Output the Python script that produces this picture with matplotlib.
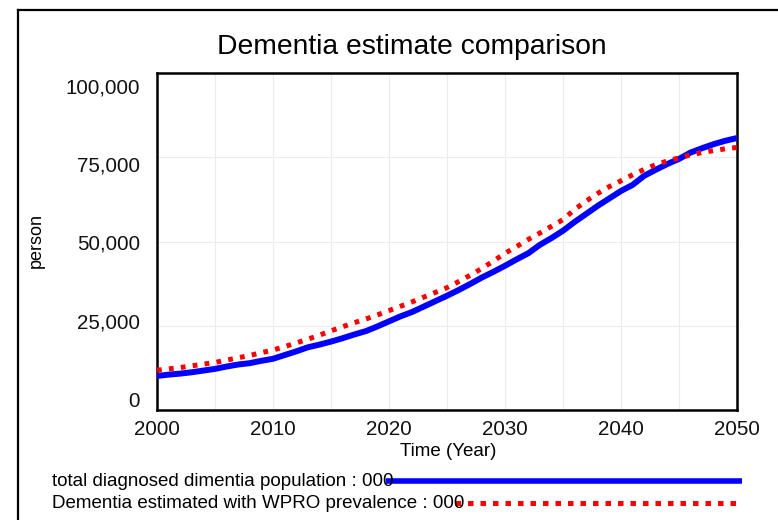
import matplotlib
matplotlib.use("Agg")
import matplotlib.pyplot as plt
from matplotlib.lines import Line2D
import numpy as np

plt.rcParams['font.family'] = ['Liberation Sans', 'DejaVu Sans']

# ---- data ----
years = list(range(2000, 2051))
diagnosed = [10100, 10500, 10800, 11200, 11700, 12200, 12900, 13500, 13900, 14600,
             15200, 16300, 17400, 18600, 19400, 20300, 21300, 22400, 23400, 24800,
             26300, 27800, 29100, 30700, 32300, 33900, 35600, 37400, 39300, 41000,
             42800, 44700, 46500, 49000, 51000, 53200, 55800, 58200, 60600, 62800,
             65000, 66800, 69500, 71300, 73000, 74500, 76400, 77700, 78900, 79900,
             80700]
wpro = [11800, 12200, 12600, 13100, 13600, 14100, 14800, 15500, 16200, 17000,
        17800, 18800, 19900, 21000, 22200, 23500, 24700, 25900, 27000, 28200,
        29500, 30800, 32100, 33500, 34900, 36300, 38100, 40000, 42000, 44200,
        46500, 48500, 50600, 52500, 54500, 56500, 59500, 62000, 64300, 66300,
        68000, 69800, 71400, 72800, 73900, 74800, 75700, 76400, 77000, 77500,
        77900]
xticks = [2000, 2010, 2020, 2030, 2040, 2050]
yticks = [0, 25000, 50000, 75000, 100000]
ytick_labels = ["0", "25,000", "50,000", "75,000", "100,000"]
title = "Dementia estimate comparison"
xlabel = "Time (Year)"
ylabel = "person"
legend_labels = ["total diagnosed dimentia population : 000",
                 "Dementia estimated with WPRO prevalence : 000"]

W, H = 778, 520
fig = plt.figure(figsize=(W / 100, H / 100), dpi=100)

def fx(x):
    return x / W

def fy(y):
    return 1 - y / H

ax = fig.add_axes([fx(157), fy(410), (737 - 157) / W, (410 - 73) / H])
ax.set_xlim(2000, 2050)
ax.set_ylim(0, 100000)

blue_line, = ax.plot(years, diagnosed, color='#0000ff', lw=4.3,
                     solid_capstyle='butt', zorder=3)
red_line, = ax.plot(years, wpro, color='#ff0000', lw=3.6,
                    dashes=(0.95, 1.45), dash_capstyle='butt', zorder=4)

ax.set_xticks(xticks)
ax.set_xticks(np.arange(2000, 2051, 5), minor=True)
ax.set_yticks(yticks)
ax.grid(True, which='both', color='#ececec', lw=0.8, zorder=0)
ax.tick_params(axis='both', which='both', length=0)
ax.tick_params(axis='x', labelsize=14.8, pad=7.5)
ax.tick_params(axis='y', labelleft=False)
for lab in ax.get_xticklabels():
    lab.set_color('#111111')

# y tick labels, spread slightly towards the middle as in the reference
for v, lab in zip(yticks, ytick_labels):
    tick_px = 410 - v / 100000 * 337
    lab_px = 244.5 + (tick_px - 241.5) * 0.929
    ax.annotate(lab, xy=(0, v), xycoords=ax.get_yaxis_transform(),
                xytext=(-17, -(lab_px - tick_px)), textcoords='offset pixels',
                ha='right', va='center', fontsize=14.8, color='#111111')

for sp in ax.spines.values():
    sp.set_linewidth(1.8)
    sp.set_color('black')

fig.text(fx(412), fy(47), title, ha='center', va='center', fontsize=20.3)
fig.text(fx(448), fy(452), xlabel, ha='center', va='center', fontsize=13.5)
fig.text(fx(36), fy(240), ylabel, ha='center', va='center', fontsize=13,
         rotation=90)

# outer frame (partially visible)
fig.add_artist(Line2D([fx(18), fx(18)], [fy(10), 0], color='black', lw=1.6,
                      transform=fig.transFigure))
fig.add_artist(Line2D([fx(18), 1], [fy(10), fy(10)], color='black', lw=1.6,
                      transform=fig.transFigure))

# legend
fig.text(fx(52), fy(481), legend_labels[0], ha='left', va='center', fontsize=13.5)
fig.text(fx(52), fy(503), legend_labels[1], ha='left', va='center', fontsize=13.5)
fig.add_artist(Line2D([fx(386), fx(742)], [fy(480.5), fy(480.5)],
                      color=blue_line.get_color(), lw=4.0, solid_capstyle='butt',
                      transform=fig.transFigure))
fig.add_artist(Line2D([fx(455), fx(742)], [fy(502.5), fy(502.5)],
                      color=red_line.get_color(), lw=3.6, dashes=(1.1, 1.4),
                      dash_capstyle='butt', transform=fig.transFigure))

fig.savefig("out.png", dpi=100)
